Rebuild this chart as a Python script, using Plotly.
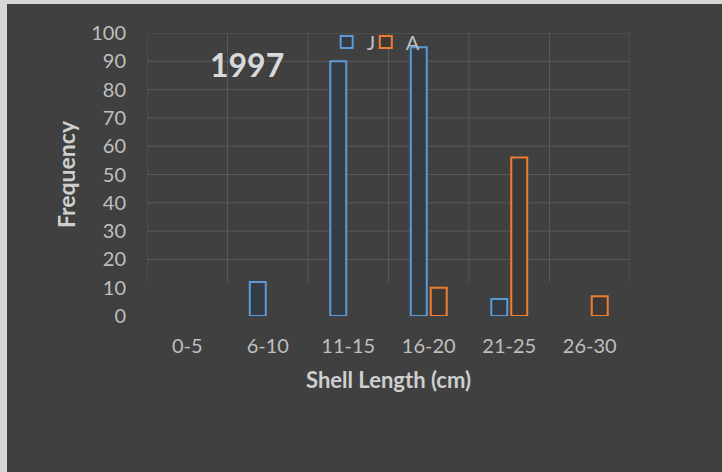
import plotly.graph_objects as go

categories = ["0-5", "6-10", "11-15", "16-20", "21-25", "26-30"]
juvenile = [0, 12, 90, 95, 6, 0]
adult = [0, 0, 0, 10, 56, 7]
y_ticks = [0, 10, 20, 30, 40, 50, 60, 70, 80, 90, 100]

BG = "#404040"
TXT = "#bfbfbf"
GRID = "#595959"
FONT = "Lato, 'Open Sans', sans-serif"


def nz(vals):
    return [v if v else None for v in vals]


fig = go.Figure()
fig.add_trace(go.Bar(
    x=categories, y=nz(juvenile), name="J", legend="legend",
    marker=dict(color="#353b42", line=dict(color="#5B9BD5", width=2)),
))
fig.add_trace(go.Bar(
    x=categories, y=nz(adult), name="A", legend="legend2",
    marker=dict(color="#3f3935", line=dict(color="#ED7D31", width=2)),
))

# grid lines (fade out near the base, as in the original)
shapes = [dict(type="rect", xref="paper", yref="paper", layer="below",
               x0=(7 - 147) / 483, x1=(730 - 147) / 483,
               y0=(316 - 480) / 283, y1=(316 - 4) / 283,
               fillcolor=BG, line=dict(width=0))]
for t in y_ticks:
    if t >= 20:
        shapes.append(dict(type="line", xref="paper", yref="y", layer="below",
                           x0=0, x1=1, y0=t, y1=t, line=dict(color=GRID, width=1)))
for i in range(len(categories) + 1):
    shapes.append(dict(type="line", xref="x", yref="y", layer="below",
                       x0=i - 0.5, x1=i - 0.5, y0=12, y1=100, line=dict(color=GRID, width=1)))

legend_style = dict(orientation="h", yanchor="middle", xanchor="left", y=0.968,
                    bgcolor="rgba(0,0,0,0)", font=dict(size=20, color=TXT),
                    itemwidth=30, tracegroupgap=0)

fig.update_layout(
    width=722, height=472,
    margin=dict(l=147, r=92, t=33, b=156),
    paper_bgcolor="#d6d6d6",
    plot_bgcolor="rgba(0,0,0,0)",
    barmode="group", bargap=0.504, bargroupgap=0.2,
    font=dict(family=FONT, color=TXT, size=20),
    showlegend=True,
    legend=dict(x=0.372, **legend_style),
    legend2=dict(x=0.453, **legend_style),
    xaxis=dict(
        type="category", range=[-0.5, 5.5], showgrid=False,
        ticks="", showline=False, zeroline=False,
        ticklabelstandoff=16,
        title=dict(text="<b>Shell Length (cm)</b>", font=dict(size=22, color="#cfcfcf"), standoff=16),
    ),
    yaxis=dict(
        range=[0, 100], tickvals=y_ticks, showgrid=False,
        zeroline=False, ticks="", showline=False,
        ticklabelstandoff=20,
        title=dict(text="<b>Frequency</b>", font=dict(size=23, color="#cfcfcf"), standoff=9),
    ),
    shapes=shapes,
    annotations=[dict(text="<b>1997</b>", xref="paper", yref="paper", x=0.207, y=0.887,
                      xanchor="center", yanchor="middle",
                      showarrow=False, font=dict(size=32, color="#d9d9d9", family=FONT))],
)

fig.write_html("out.html", config={"displayModeBar": False},
               post_script="document.body.style.margin='0px';")
